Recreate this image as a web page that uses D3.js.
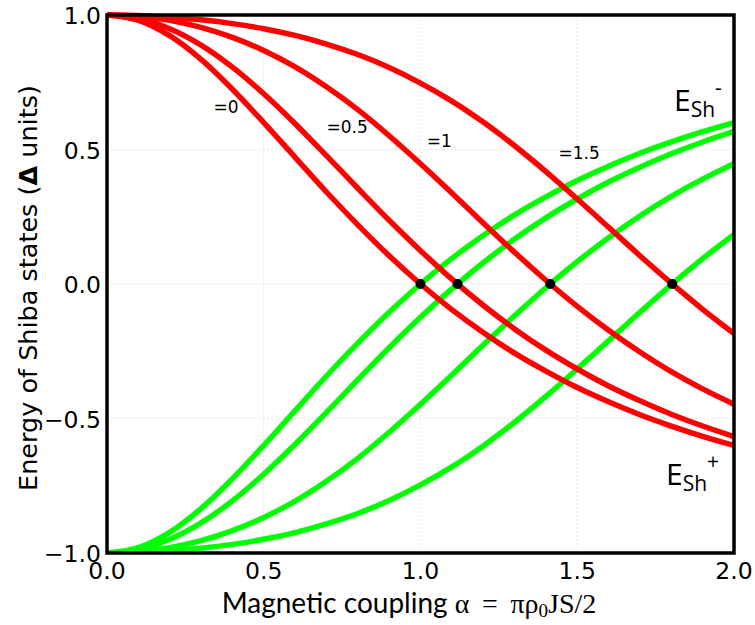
<!DOCTYPE html>
<html>
<head>
<meta charset="utf-8">
<script src="https://cdn.jsdelivr.net/npm/d3@7"></script>
<style>
  html, body { margin: 0; padding: 0; background: #fff; }
  svg { display: block; }
</style>
</head>
<body>
<svg id="chart" width="755" height="625"></svg>
<script>
// Magnetic coupling values where each energy branch is sampled
const alpha = [0, 0.1, 0.2, 0.3, 0.4, 0.5, 0.6, 0.7, 0.8, 0.9, 1.0,
               1.1, 1.2, 1.3, 1.4, 1.5, 1.6, 1.7, 1.8, 1.9, 2.0];

// Upper Shiba branch E_Sh- (red), one series per potential-scattering value
const redBeta0   = [1, 0.980, 0.923, 0.835, 0.724, 0.600, 0.471, 0.342, 0.220, 0.105, 0,
                    -0.095, -0.180, -0.257, -0.324, -0.385, -0.438, -0.486, -0.528, -0.566, -0.600];
const redBeta05  = [1, 0.987, 0.949, 0.888, 0.806, 0.707, 0.596, 0.477, 0.356, 0.237, 0.124,
                    0.018, -0.079, -0.167, -0.246, -0.316, -0.379, -0.434, -0.484, -0.528, -0.567];
const redBeta1   = [1, 0.995, 0.980, 0.954, 0.917, 0.868, 0.807, 0.733, 0.648, 0.551, 0.447,
                    0.338, 0.227, 0.118, 0.014, -0.083, -0.172, -0.253, -0.326, -0.390, -0.447];
const redBeta15  = [1, 0.998, 0.992, 0.982, 0.968, 0.949, 0.924, 0.892, 0.853, 0.805, 0.747,
                    0.680, 0.602, 0.514, 0.418, 0.316, 0.211, 0.105, 0.003, -0.094, -0.184];

// Lower Shiba branch E_Sh+ (green)
const greenBeta0  = [-1, -0.980, -0.923, -0.835, -0.724, -0.600, -0.471, -0.342, -0.220, -0.105, 0,
                     0.095, 0.180, 0.257, 0.324, 0.385, 0.438, 0.486, 0.528, 0.566, 0.600];
const greenBeta05 = [-1, -0.987, -0.949, -0.888, -0.806, -0.707, -0.596, -0.477, -0.356, -0.237, -0.124,
                     -0.018, 0.079, 0.167, 0.246, 0.316, 0.379, 0.434, 0.484, 0.528, 0.567];
const greenBeta1  = [-1, -0.995, -0.980, -0.954, -0.917, -0.868, -0.807, -0.733, -0.648, -0.551, -0.447,
                     -0.338, -0.227, -0.118, -0.014, 0.083, 0.172, 0.253, 0.326, 0.390, 0.447];
const greenBeta15 = [-1, -0.998, -0.992, -0.982, -0.968, -0.949, -0.924, -0.892, -0.853, -0.805, -0.747,
                     -0.680, -0.602, -0.514, -0.418, -0.316, -0.211, -0.105, -0.003, 0.094, 0.184];

// Zero-energy crossings (quantum phase transition points)
const crossAlpha = [1.0, 1.118, 1.414, 1.803];
const crossEnergy = [0, 0, 0, 0];

// Curve labels and their anchor coordinates (alpha, energy)
const curveLabels = ["=0", "=0.5", "=1", "=1.5"];
const labelAlpha = [0.34, 0.70, 1.02, 1.44];
const labelEnergy = [0.635, 0.56, 0.51, 0.465];

const xTicks = [0, 0.5, 1.0, 1.5, 2.0];
const yTicks = [-1.0, -0.5, 0.0, 0.5, 1.0];

const svg = d3.select("#chart");
const plotLeft = 107, plotRight = 734, plotTop = 15, plotBottom = 553;

const x = d3.scaleLinear().domain([0, 2]).range([plotLeft, plotRight]);
const y = d3.scaleLinear().domain([-1, 1]).range([plotBottom, plotTop]);

// faint grid
const grid = svg.append("g").attr("stroke", "#e6e6e6").attr("stroke-width", 1)
  .attr("stroke-dasharray", "2,2");
grid.selectAll("line.gx").data(xTicks.slice(1, -1)).enter().append("line")
  .attr("x1", d => x(d)).attr("x2", d => x(d)).attr("y1", plotTop).attr("y2", plotBottom);
grid.selectAll("line.gy").data(yTicks.slice(1, -1)).enter().append("line")
  .attr("y1", d => y(d)).attr("y2", d => y(d)).attr("x1", plotLeft).attr("x2", plotRight);

const line = d3.line()
  .x((d, i) => x(alpha[i]))
  .y(d => y(d))
  .curve(d3.curveCatmullRom);

svg.append("clipPath").attr("id", "plotclip")
  .append("rect").attr("x", plotLeft).attr("y", plotTop - 3)
  .attr("width", plotRight - plotLeft).attr("height", plotBottom - plotTop + 3);

const plot = svg.append("g").attr("clip-path", "url(#plotclip)");

[greenBeta0, greenBeta05, greenBeta1, greenBeta15].forEach(s => {
  plot.append("path").attr("d", line(s))
    .attr("fill", "none").attr("stroke", "#00ff00").attr("stroke-width", 5.5);
});
[redBeta0, redBeta05, redBeta1, redBeta15].forEach(s => {
  plot.append("path").attr("d", line(s))
    .attr("fill", "none").attr("stroke", "#ff0000").attr("stroke-width", 5.5);
});

svg.selectAll("circle.cross").data(crossAlpha).enter().append("circle")
  .attr("cx", d => x(d)).attr("cy", (d, i) => y(crossEnergy[i]))
  .attr("r", 5).attr("fill", "#000");

// frame
svg.append("rect").attr("x", plotLeft).attr("y", plotTop)
  .attr("width", plotRight - plotLeft).attr("height", plotBottom - plotTop)
  .attr("fill", "none").attr("stroke", "#000").attr("stroke-width", 3.5);

// tick labels
const tickFont = "DejaVu Sans, sans-serif";
svg.selectAll("text.xt").data(xTicks).enter().append("text")
  .attr("x", d => x(d)).attr("y", 579)
  .attr("text-anchor", "middle")
  .attr("font-family", tickFont).attr("font-size", 23.5).attr("fill", "#000")
  .text(d => d.toFixed(1));
svg.selectAll("text.yt").data(yTicks).enter().append("text")
  .attr("x", 101).attr("y", d => y(d) + 9)
  .attr("text-anchor", "end")
  .attr("font-family", tickFont).attr("font-size", 23.5).attr("fill", "#000")
  .text(d => (d < 0 ? "\u2212" : "") + Math.abs(d).toFixed(1));

// curve labels
svg.selectAll("text.cl").data(curveLabels).enter().append("text")
  .attr("x", (d, i) => x(labelAlpha[i])).attr("y", (d, i) => y(labelEnergy[i]))
  .attr("font-family", tickFont).attr("font-size", 17).attr("fill", "#000")
  .text(d => d);

// x axis title
const xt = svg.append("text").attr("x", 409).attr("y", 613)
  .attr("text-anchor", "middle").attr("font-size", 28).attr("fill", "#000")
  .attr("font-family", "Lato, Open Sans, sans-serif");
xt.append("tspan").text("Magnetic coupling ");
const mathFont = "Liberation Serif, DejaVu Serif, serif";
xt.append("tspan").attr("font-family", mathFont).text("\u03b1 \u2009=\u2009 \u03c0\u03c1");
xt.append("tspan").attr("font-family", mathFont).attr("font-size", 19).attr("dy", 4).text("0");
xt.append("tspan").attr("font-family", mathFont).attr("dy", -4).text("JS/2");

// y axis title
const yt = svg.append("text")
  .attr("transform", "translate(37,288) rotate(-90)")
  .attr("text-anchor", "middle").attr("font-size", 25.5).attr("fill", "#000")
  .attr("font-family", tickFont);
yt.append("tspan").text("Energy of Shiba states (");
yt.append("tspan").attr("font-weight", "bold").text("\u0394");
yt.append("tspan").text(" units)");

// branch labels
function branchLabel(px, py, sign) {
  const t = svg.append("text").attr("x", px).attr("y", py)
    .attr("font-family", "Open Sans, sans-serif").attr("fill", "#000");
  t.append("tspan").attr("font-size", 30).text("E");
  t.append("tspan").attr("font-size", 21).attr("dy", 6).text("Sh");
  t.append("tspan").attr("font-size", 21).attr("dy", -22).text(sign);
}
branchLabel(674, 111, "-");
branchLabel(666, 485, "+");
</script>
</body>
</html>
